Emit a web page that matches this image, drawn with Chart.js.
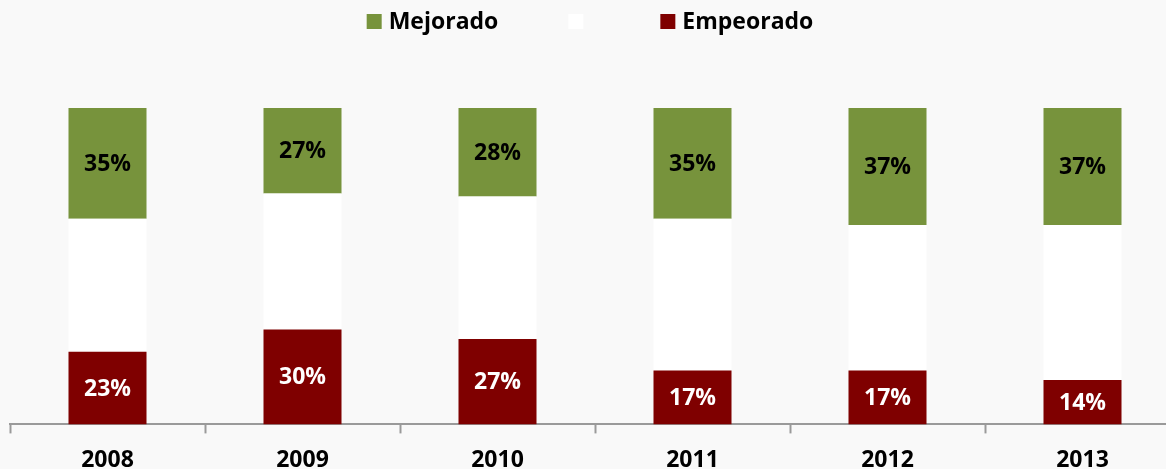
<!DOCTYPE html>
<html>
<head>
<meta charset="utf-8">
<script src="https://cdn.jsdelivr.net/npm/chart.js@4.4.1/dist/chart.umd.min.js"></script>
<style>
  html, body { margin: 0; padding: 0; background: #f9f9f9; overflow: hidden; }
  #wrap { width: 1166px; height: 469px; overflow: hidden; }
</style>
</head>
<body>
<div id="wrap"><canvas id="chart" width="1180" height="487"></canvas></div>
<script>
const years = ["2008", "2009", "2010", "2011", "2012", "2013"];
const empeorado = [23, 30, 27, 17, 17, 14];
const igual = [42, 43, 45, 48, 46, 49];
const mejorado = [35, 27, 28, 35, 37, 37];

const FONT = "'Open Sans', sans-serif";

// legend drawn by hand so the spacing matches
const topLegend = {
  id: "topLegend",
  afterDraw(chart) {
    const ctx = chart.ctx;
    const items = chart.data.datasets.slice().reverse();
    const box = 15, gapText = 7, gapItem = 70;
    ctx.save();
    ctx.font = "bold 23px " + FONT;
    let widths = items.map(d => box + (d.label ? gapText + ctx.measureText(d.label).width : 0));
    let total = widths.reduce((a, b) => a + b, 0) + gapItem * (items.length - 1) + gapText;
    let x = 590 - total / 2;
    const y = 21;
    items.forEach((d, i) => {
      ctx.fillStyle = d.backgroundColor;
      ctx.fillRect(x, y - 7, box, box);
      if (d.label) {
        ctx.fillStyle = "#000";
        ctx.textBaseline = "middle";
        ctx.fillText(d.label, x + box + gapText, y + 1);
      } else {
        x += gapText;
      }
      x += widths[i] + gapItem;
    });
    ctx.restore();
  }
};

const barLabels = {
  id: "barLabels",
  afterDatasetsDraw(chart) {
    const ctx = chart.ctx;
    ctx.save();
    ctx.font = "bold 23px " + FONT;
    ctx.textAlign = "center";
    ctx.textBaseline = "middle";
    chart.data.datasets.forEach((ds, di) => {
      if (!ds.showValue) return;
      const meta = chart.getDatasetMeta(di);
      meta.data.forEach((bar, i) => {
        ctx.fillStyle = ds.valueColor;
        ctx.fillText(ds.data[i] + "%", bar.x, (bar.y + bar.base) / 2 + 1);
      });
    });
    ctx.restore();
  }
};

new Chart(document.getElementById("chart"), {
  type: "bar",
  data: {
    labels: years,
    datasets: [
      { label: "Empeorado", data: empeorado, backgroundColor: "#7f0000", showValue: true, valueColor: "#ffffff" },
      { label: "", data: igual, backgroundColor: "#ffffff", showValue: false },
      { label: "Mejorado", data: mejorado, backgroundColor: "#77933c", showValue: true, valueColor: "#000000" }
    ]
  },
  options: {
    responsive: false,
    animation: false,
    devicePixelRatio: 1,
    layout: { padding: { top: 108, left: 10, right: 0, bottom: 0 } },
    datasets: { bar: { barPercentage: 0.4, categoryPercentage: 1 } },
    plugins: {
      legend: { display: false },
      tooltip: { enabled: false }
    },
    scales: {
      x: {
        stacked: true,
        grid: { drawOnChartArea: false, drawTicks: true, tickLength: 9, tickColor: "#9a9a9a", tickWidth: 2 },
        border: { display: true, color: "#9a9a9a", width: 2 },
        ticks: { color: "#000", padding: 13, font: { family: FONT, size: 23, weight: "bold" } }
      },
      y: {
        stacked: true,
        display: false,
        min: 0,
        max: 100
      }
    }
  },
  plugins: [topLegend, barLabels]
});
</script>
</body>
</html>
